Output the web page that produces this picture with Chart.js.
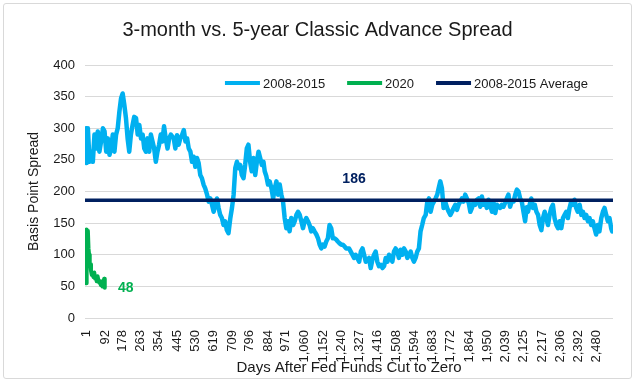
<!DOCTYPE html>
<html>
<head>
<meta charset="utf-8">
<script src="https://cdn.jsdelivr.net/npm/chart.js@4/dist/chart.umd.min.js"></script>
<style>
  html, body { margin: 0; padding: 0; background: #fff; }
  #wrap { position: relative; width: 635px; height: 383px; }
  #frame { position: absolute; left: 3px; top: 3px; width: 627px; height: 374px; border: 1px solid #d9d9d9; border-radius: 3px; pointer-events: none; }
  canvas { position: absolute; left: 0; top: 0; }
</style>
</head>
<body>
<div id="wrap">
  <canvas id="c" width="635" height="383"></canvas>
  <div id="frame"></div>
</div>
<script>
// ---- data (day after cut, spread in bp) ----
const tickDays = [1,92,178,263,354,445,530,619,709,796,884,971,1060,1152,1240,1327,1416,1508,1594,1683,1772,1864,1950,2039,2125,2217,2306,2392,2480];

const series2008a = [[1,300],[3,245],[9,300],[17,247],[25,263],[33,247],[41,290],[49,268],[57,295],[65,263],[73,279],[82,300],[90,295],[98,263],[106,284],[114,258],[122,268],[130,290],[138,263],[146,290],[154,300],[162,326],[170,347],[178,355],[186,337],[194,316],[202,284],[210,263],[218,290],[226,305],[234,318],[243,316],[251,290],[259,305],[267,284],[275,290],[283,268],[291,263],[299,284],[307,263],[315,290],[323,279],[331,268],[339,247],[347,263],[355,274],[363,290],[371,279],[379,303],[387,284],[396,268],[404,284],[412,290]];
const series2008b = [[426,284],[434,268],[442,289],[450,274],[458,284],[466,289],[475,297],[483,279],[491,284],[499,268],[507,263],[515,247],[523,255],[531,239],[539,253],[547,245],[555,226],[563,221],[571,211],[579,205],[588,195],[596,184],[604,189],[612,179],[620,168],[628,179],[636,189],[644,174],[652,163],[660,158],[668,147],[676,153],[684,139],[692,134],[701,158],[709,174],[717,195],[725,237],[733,247],[741,237],[749,242],[757,226],[765,221],[773,242],[781,268],[789,274],[797,247],[805,232],[814,253],[822,226],[830,247],[838,263],[846,253],[854,242],[862,247]];
const series2008c = [[868,232],[876,224],[884,211],[892,216],[901,205],[909,189],[917,205],[925,216],[933,195],[941,211],[949,195],[957,184],[965,158],[973,142],[981,153],[989,137],[997,158],[1006,147],[1014,153],[1022,163],[1030,168],[1038,163],[1046,153],[1054,142],[1062,153],[1070,158],[1078,153],[1086,147],[1094,137],[1102,142],[1110,137],[1119,132],[1127,126],[1135,116],[1143,110],[1151,116],[1159,113],[1167,121],[1175,126],[1183,147],[1191,142],[1199,126],[1207,126],[1215,124],[1223,121],[1232,118],[1240,116],[1248,116],[1256,113],[1264,110]];
const series2008d = [[1278,110],[1286,105],[1294,100],[1302,95],[1310,100],[1318,95],[1327,89],[1335,105],[1343,110],[1351,100],[1359,89],[1367,92],[1375,95],[1383,79],[1391,92],[1399,100],[1407,105],[1415,89],[1423,82],[1432,84],[1440,79],[1448,82],[1456,95],[1464,89],[1472,100],[1480,95],[1488,89],[1496,105],[1504,110],[1512,105],[1520,95],[1528,108],[1536,100],[1545,110],[1553,105],[1561,95],[1569,100],[1577,105],[1585,95],[1593,89],[1601,95],[1609,105],[1617,110],[1625,137],[1633,147],[1641,158],[1650,163],[1658,184],[1666,189],[1674,168],[1682,179],[1690,184],[1698,189]];
const series2008e = [[1706,195],[1713,205],[1721,216],[1729,205],[1737,174],[1745,184],[1754,174],[1762,168],[1770,163],[1778,168],[1786,174],[1794,179],[1802,171],[1810,179],[1818,184],[1826,189],[1834,184],[1842,195],[1850,189],[1859,182],[1867,168],[1875,174],[1883,184],[1891,179],[1899,187],[1907,189],[1915,176],[1923,192],[1931,179],[1939,184],[1947,174],[1955,187],[1963,179],[1972,168],[1980,182],[1988,166],[1996,179],[2004,176],[2012,174],[2020,179],[2028,176],[2036,182],[2044,189],[2052,195],[2060,176],[2068,184],[2077,184],[2085,195],[2093,203],[2101,200],[2109,189],[2117,184],[2125,168],[2133,153]];
const series2008f = [[2141,175],[2147,168],[2155,179],[2163,189],[2171,174],[2180,179],[2188,168],[2196,163],[2204,147],[2212,139],[2220,158],[2228,168],[2236,158],[2244,147],[2252,163],[2260,174],[2268,179],[2276,158],[2285,147],[2293,142],[2301,153],[2309,142],[2317,158],[2325,163],[2333,168],[2341,158],[2349,174],[2357,184],[2365,179],[2373,187],[2381,174],[2389,168],[2398,179],[2406,163],[2414,168],[2422,158],[2430,163],[2438,153],[2446,158],[2454,147],[2462,153],[2470,142],[2478,132],[2486,147],[2494,137],[2503,158],[2511,168],[2519,174],[2527,163],[2535,153],[2543,158],[2551,142],[2556,137]];

const series2020 = [[1,55],[3,140],[6,135],[9,138],[12,110],[15,100],[18,82],[21,85],[24,75],[28,68],[32,70],[36,65],[40,72],[44,62],[48,65],[52,58],[56,66],[60,60],[64,56],[68,58],[72,52],[76,55],[80,50],[84,52],[88,62],[91,48]];

const average2008 = 186;
const seriesNames = ['2008-2015', '2020', '2008-2015 Average'];

// ---- styling ----
const BLUE = '#00b0f0', GREEN = '#00b050', NAVY = '#002060';
const TEXT = '#1a1a1a';
const FONT = '"Liberation Sans", Arial, sans-serif';
const X_MIN = -5, X_MAX = 2560;

const toPts = arr => arr.map(p => ({x: p[0], y: p[1]}));
const blueData = toPts([].concat(series2008a, series2008b, series2008c, series2008d, series2008e, series2008f));

const labelPlugin = {
  id: 'valueLabels',
  afterDatasetsDraw(chart) {
    const {ctx, scales: {x, y}} = chart;
    ctx.save();
    ctx.font = 'bold 14px ' + FONT;
    ctx.textAlign = 'center';
    ctx.textBaseline = 'middle';
    ctx.fillStyle = NAVY;
    ctx.fillText(String(average2008), x.getPixelForValue(1302), y.getPixelForValue(average2008) - 21);
    const last = series2020[series2020.length - 1];
    ctx.fillStyle = GREEN;
    ctx.fillText(String(last[1]), x.getPixelForValue(last[0]) + 21, y.getPixelForValue(last[1]) + 1);
    ctx.restore();
  }
};

// legend drawn inside the plot area, one row, right aligned
const innerLegend = {
  id: 'innerLegend',
  afterDraw(chart) {
    const {ctx, chartArea} = chart;
    const boxW = 35, boxH = 4, textGap = 3, itemGap = 22;
    ctx.save();
    ctx.font = '13px ' + FONT;
    ctx.textBaseline = 'middle';
    ctx.textAlign = 'left';
    const items = chart.data.datasets.map(ds => ({ text: ds.label, color: ds.borderColor, w: boxW + textGap + ctx.measureText(ds.label).width }));
    const total = items.reduce((s, it) => s + it.w, 0) + itemGap * (items.length - 1);
    let cx = chartArea.right - 25 - total;
    const cy = chartArea.top + 18;
    items.forEach(it => {
      ctx.fillStyle = it.color;
      ctx.fillRect(cx, cy - boxH / 2, boxW, boxH);
      ctx.fillStyle = TEXT;
      ctx.fillText(it.text, cx + boxW + textGap, cy + 1);
      cx += it.w + itemGap;
    });
    ctx.restore();
  }
};

const lineStyle = { pointRadius: 0, tension: 0, fill: false, borderJoinStyle: 'round', borderCapStyle: 'round' };

new Chart(document.getElementById('c'), {
  type: 'line',
  data: {
    datasets: [
      Object.assign({ label: seriesNames[0], data: blueData, borderColor: BLUE, backgroundColor: BLUE, borderWidth: 4.5, order: 2 }, lineStyle),
      Object.assign({ label: seriesNames[1], data: toPts(series2020), borderColor: GREEN, backgroundColor: GREEN, borderWidth: 4, order: 1 }, lineStyle),
      Object.assign({ label: seriesNames[2], data: [{x: X_MIN, y: average2008}, {x: X_MAX, y: average2008}], borderColor: NAVY, backgroundColor: NAVY, borderWidth: 3.5, order: 0 }, lineStyle, { borderCapStyle: 'butt' })
    ]
  },
  options: {
    responsive: false,
    animation: false,
    events: [],
    layout: { padding: 0 },
    plugins: {
      title: {
        display: true,
        text: '3-month vs. 5-year Classic Advance Spread',
        color: TEXT,
        font: { family: FONT, size: 20, weight: 'normal' },
        padding: { top: 18, bottom: 23 }
      },
      legend: { display: false },
      tooltip: { enabled: false }
    },
    scales: {
      x: {
        type: 'linear',
        min: X_MIN,
        max: X_MAX,
        afterBuildTicks: s => { s.ticks = tickDays.map(v => ({ value: v })); },
        afterFit: s => { s.height = 65; },
        grid: { display: false },
        border: { display: false },
        ticks: {
          autoSkip: false,
          minRotation: 90,
          maxRotation: 90,
          padding: 4,
          color: TEXT,
          font: { family: FONT, size: 13 },
          callback: v => Number(v).toLocaleString('en-US')
        },
        title: {
          display: true,
          text: 'Days After Fed Funds Cut to Zero',
          color: TEXT,
          font: { family: FONT, size: 15 },
          padding: { top: 0, bottom: 6 }
        }
      },
      y: {
        min: 0,
        max: 400,
        afterFit: s => { s.width = 85; },
        grid: { color: '#d9d9d9', lineWidth: 1, drawTicks: false },
        border: { display: false },
        ticks: {
          stepSize: 50,
          padding: 10,
          color: TEXT,
          font: { family: FONT, size: 13 }
        },
        title: {
          display: true,
          text: 'Basis Point Spread',
          color: TEXT,
          font: { family: FONT, size: 14 },
          padding: { top: 26, bottom: 0 }
        }
      },
      yRight: {
        position: 'right',
        display: true,
        afterFit: s => { s.width = 22; },
        grid: { display: false, drawTicks: false },
        border: { display: false },
        ticks: { display: false }
      }
    }
  },
  plugins: [labelPlugin, innerLegend]
});
</script>
</body>
</html>
